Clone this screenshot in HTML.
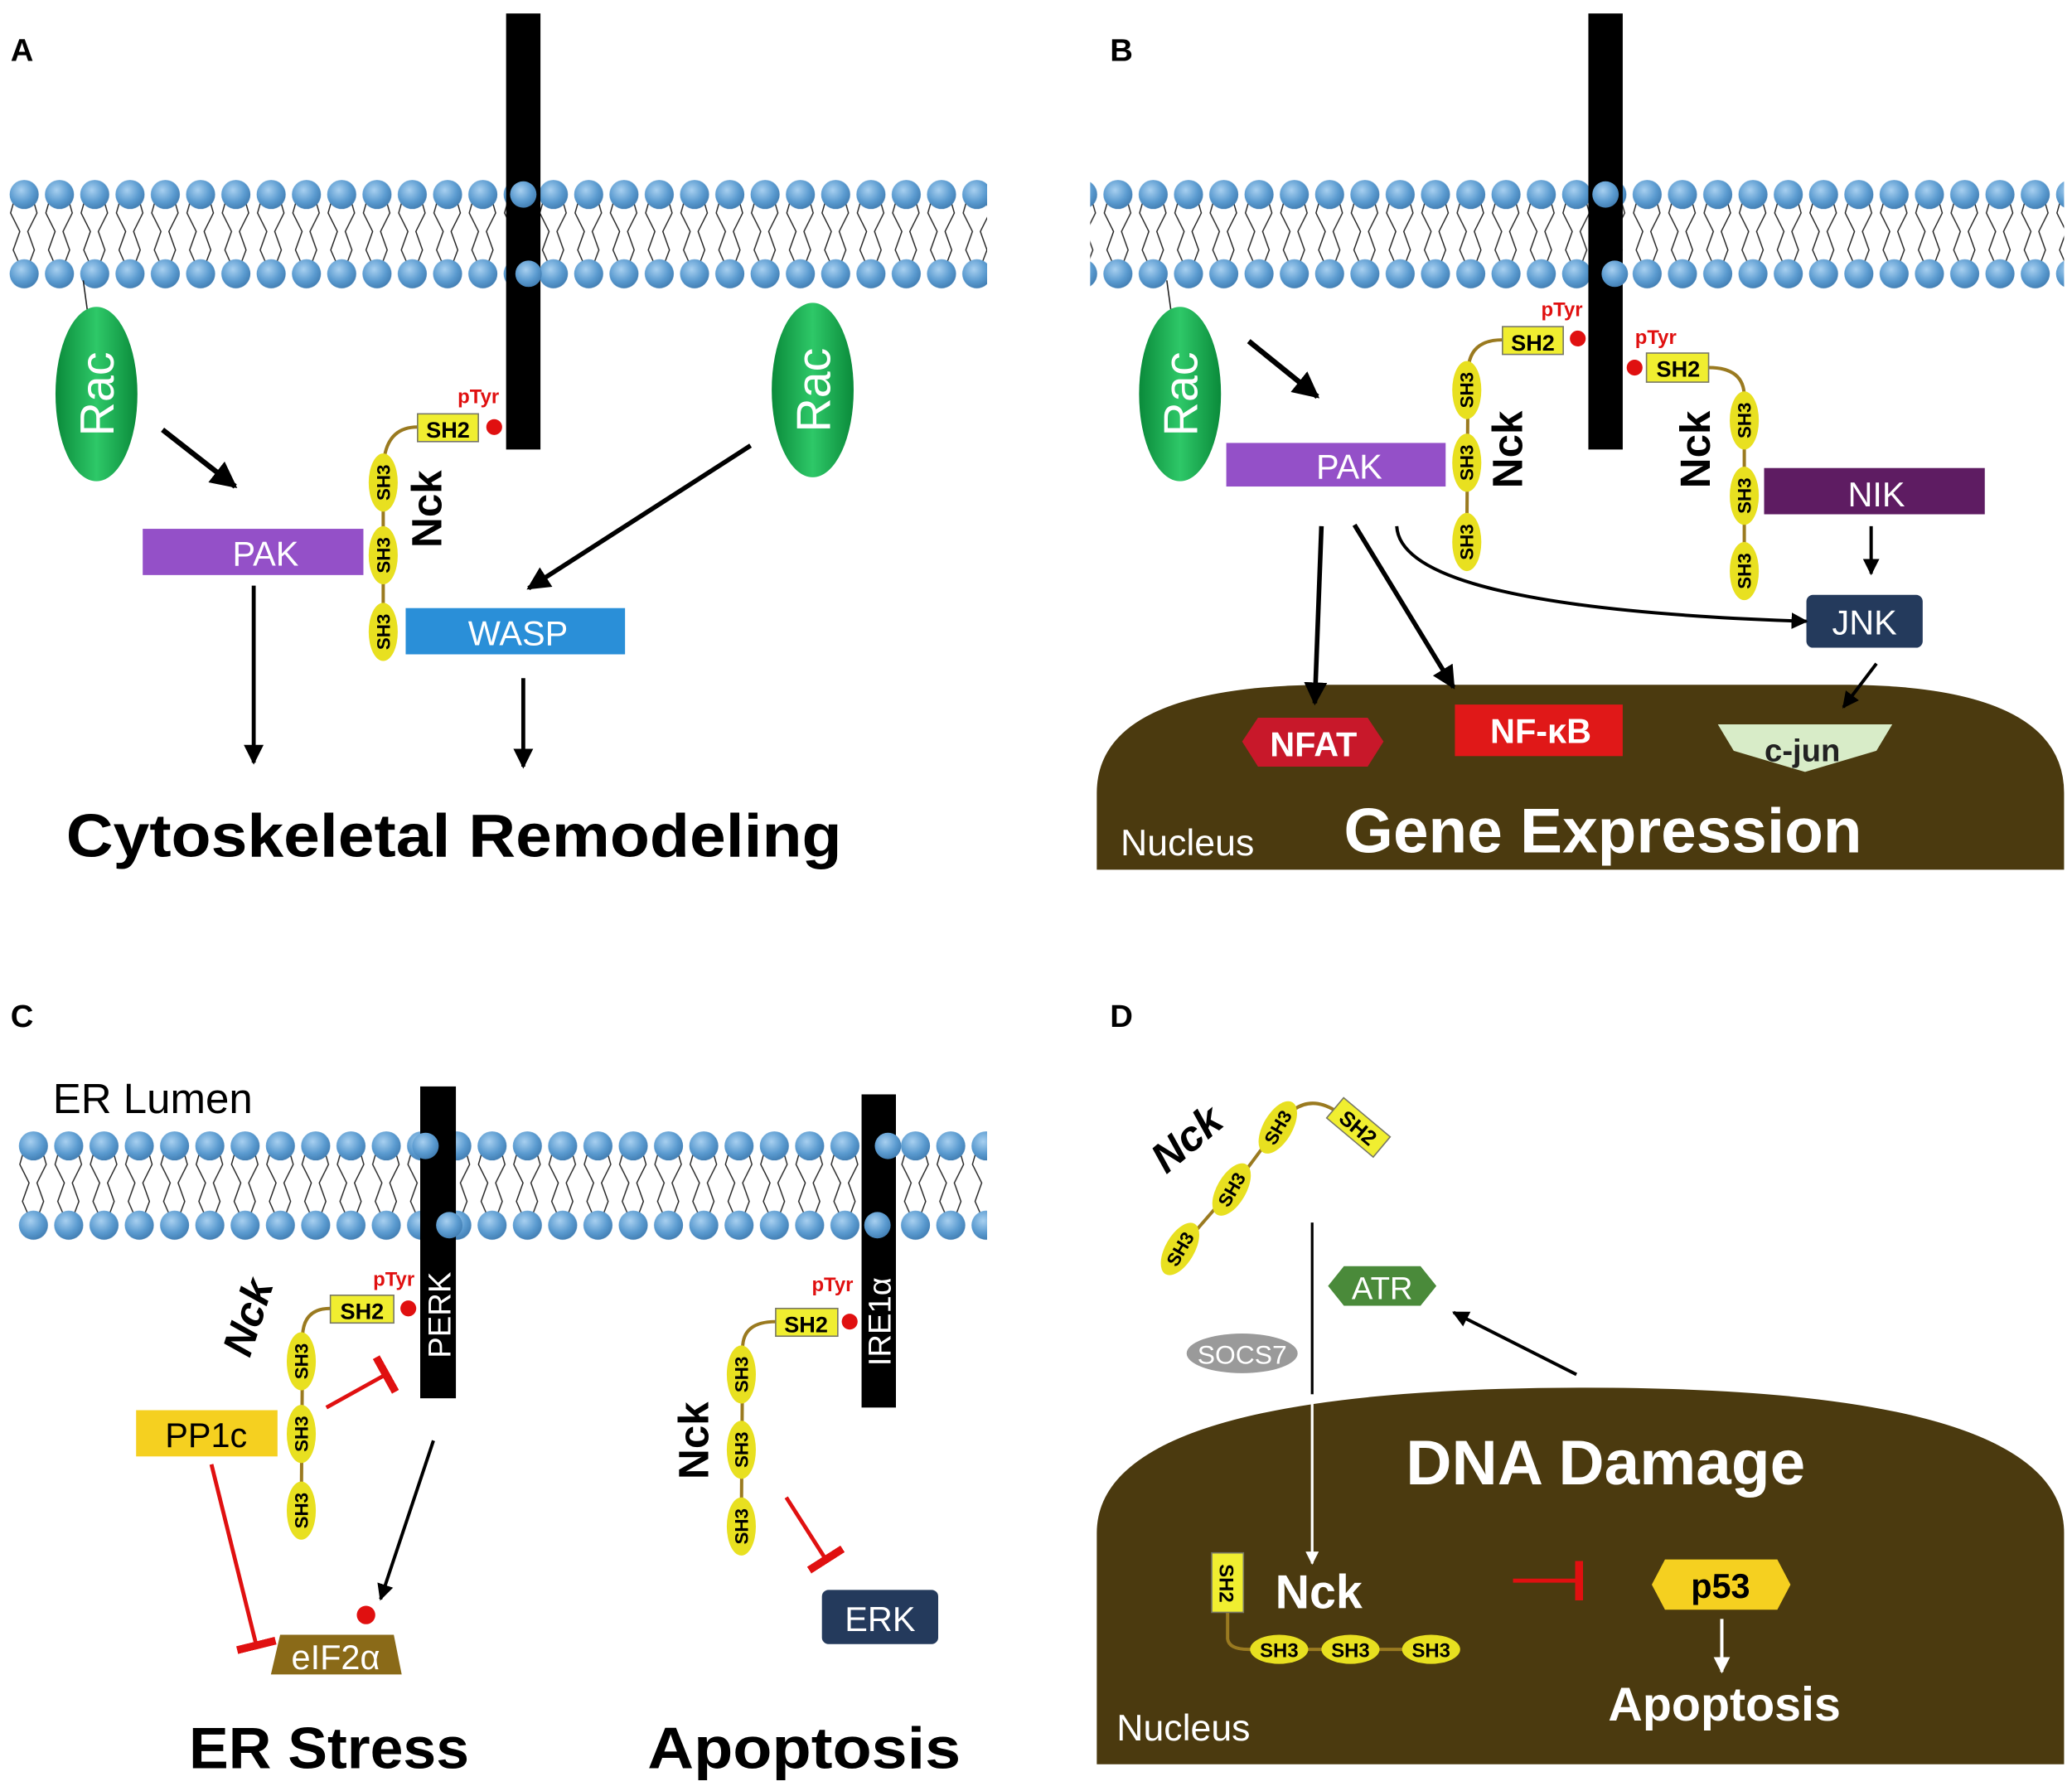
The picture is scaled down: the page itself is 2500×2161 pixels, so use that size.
<!DOCTYPE html>
<html><head><meta charset="utf-8"><style>
html,body{margin:0;padding:0;background:#fff}
svg{display:block}
text{font-family:"Liberation Sans",sans-serif}
</style></head><body>
<svg width="2500" height="2161" viewBox="0 0 1568 1355" xmlns="http://www.w3.org/2000/svg">
<defs>
<radialGradient id="hd" cx="0.4" cy="0.35" r="0.7"><stop offset="0" stop-color="#a8d0f0"/><stop offset="0.6" stop-color="#5b9bd0"/><stop offset="1" stop-color="#3f7bb0"/></radialGradient>
<pattern id="memA" patternUnits="userSpaceOnUse" x="5" y="131" width="26.7" height="90">
<path d="M7,16 L3,30 L10,44 L5,58 L12,74 M19,16 L23,30 L16,44 L21,58 L15,74" stroke="#222" stroke-width="0.9" fill="none"/>
<circle cx="13.3" cy="16" r="11" fill="url(#hd)"/><circle cx="13.3" cy="76" r="11" fill="url(#hd)"/>
</pattern>
<pattern id="memC" patternUnits="userSpaceOnUse" x="12" y="851" width="26.7" height="90">
<path d="M7,16 L3,30 L10,44 L5,58 L12,74 M19,16 L23,30 L16,44 L21,58 L15,74" stroke="#222" stroke-width="0.9" fill="none"/>
<circle cx="13.3" cy="16" r="11" fill="url(#hd)"/><circle cx="13.3" cy="76" r="11" fill="url(#hd)"/>
</pattern>
<linearGradient id="gr" x1="0" x2="1"><stop offset="0" stop-color="#0a8a3a"/><stop offset="0.5" stop-color="#2ec868"/><stop offset="1" stop-color="#0a8a3a"/></linearGradient>
<marker id="ab" viewBox="0 0 10 10" refX="9" refY="5" markerWidth="5" markerHeight="5" orient="auto"><path d="M0,0 L10,5 L0,10 Z" fill="#000"/></marker>
<marker id="aw" viewBox="0 0 10 10" refX="9" refY="5" markerWidth="5" markerHeight="5" orient="auto"><path d="M0,0 L10,5 L0,10 Z" fill="#fff"/></marker>
<marker id="ti" viewBox="0 0 4 20" refX="2" refY="10" markerWidth="2" markerHeight="10" orient="auto"><rect x="0" y="0" width="4" height="20" fill="#e01010"/></marker>
</defs>

<!-- membranes -->
<rect x="5" y="131" width="742" height="90" fill="url(#memA)"/>
<rect x="825" y="131" width="737" height="90" fill="url(#memA)"/>
<rect x="12" y="851" width="735" height="90" fill="url(#memC)"/>

<g font-weight="bold" font-size="24" fill="#000"><text x="8" y="46">A</text><text x="840" y="46">B</text><text x="8" y="777">C</text><text x="840" y="777">D</text></g>

<!-- Panel A -->
<rect x="383" y="10" width="26" height="330" fill="#000"/>
<circle cx="396" cy="147" r="10" fill="url(#hd)"/><circle cx="400" cy="207" r="10" fill="url(#hd)"/>
<line x1="63" y1="212" x2="66" y2="234" stroke="#222"/>
<ellipse cx="73" cy="298" rx="31" ry="66" fill="url(#gr)"/>
<text transform="translate(86,298) rotate(-90)" text-anchor="middle" fill="#fff" font-size="36">Rac</text>
<ellipse cx="615" cy="295" rx="31" ry="66" fill="url(#gr)"/>
<text transform="translate(628,295) rotate(-90)" text-anchor="middle" fill="#fff" font-size="36">Rac</text>
<line x1="123" y1="325" x2="178" y2="368" stroke="#000" stroke-width="4" marker-end="url(#ab)"/>
<rect x="108" y="400" width="167" height="35" fill="#9450c8"/><text x="201" y="428" text-anchor="middle" fill="#fff" font-size="26">PAK</text>
<line x1="568" y1="337" x2="400" y2="445" stroke="#000" stroke-width="3.5" marker-end="url(#ab)"/>
<rect x="307" y="460" width="166" height="35" fill="#2a8fd8"/><text x="392" y="488" text-anchor="middle" fill="#fff" font-size="26">WASP</text>
<line x1="192" y1="443" x2="192" y2="577" stroke="#000" stroke-width="3" marker-end="url(#ab)"/>
<line x1="396" y1="513" x2="396" y2="580" stroke="#000" stroke-width="3" marker-end="url(#ab)"/>
<path d="M316,323 Q295,323 291,345" stroke="#9a7a20" stroke-width="2.5" fill="none"/>
<line x1="290" y1="365" x2="290" y2="478" stroke="#9a7a20" stroke-width="2.5"/>
<rect x="316" y="313" width="46" height="21" fill="#f0ee30" stroke="#776"/><text x="339" y="331" text-anchor="middle" font-weight="bold" font-size="17">SH2</text>
<text x="362" y="305" text-anchor="middle" fill="#e01010" font-weight="bold" font-size="15">pTyr</text>
<circle cx="374" cy="323" r="6" fill="#e01010"/>
<g font-weight="bold" font-size="14">
<ellipse cx="290" cy="365" rx="11" ry="22" fill="#e8e020"/><text transform="translate(295,365) rotate(-90)" text-anchor="middle">SH3</text>
<ellipse cx="290" cy="420" rx="11" ry="22" fill="#e8e020"/><text transform="translate(295,420) rotate(-90)" text-anchor="middle">SH3</text>
<ellipse cx="290" cy="478" rx="11" ry="22" fill="#e8e020"/><text transform="translate(295,478) rotate(-90)" text-anchor="middle">SH3</text>
</g>
<text transform="translate(334,385) rotate(-90)" text-anchor="middle" font-weight="bold" font-size="32">Nck</text>
<text x="50" y="648" font-weight="bold" font-size="46" textLength="587" lengthAdjust="spacingAndGlyphs">Cytoskeletal Remodeling</text>

<!-- Panel B -->
<path d="M830,658 L830,600 Q830,520 1000,518 L1400,518 Q1562,520 1562,600 L1562,658 Z" fill="#4b3a0f"/>
<rect x="1202" y="10" width="26" height="330" fill="#000"/>
<circle cx="1215" cy="147" r="10" fill="url(#hd)"/><circle cx="1222" cy="207" r="10" fill="url(#hd)"/>
<line x1="883" y1="212" x2="886" y2="234" stroke="#222"/>
<ellipse cx="893" cy="298" rx="31" ry="66" fill="url(#gr)"/>
<text transform="translate(906,298) rotate(-90)" text-anchor="middle" fill="#fff" font-size="36">Rac</text>
<line x1="945" y1="258" x2="997" y2="300" stroke="#000" stroke-width="4" marker-end="url(#ab)"/>
<rect x="928" y="335" width="166" height="33" fill="#9450c8"/><text x="1021" y="362" text-anchor="middle" fill="#fff" font-size="26">PAK</text>
<path d="M1137,257 Q1112,257 1111,280 L1110,410" stroke="#9a7a20" stroke-width="2.5" fill="none"/>
<rect x="1137" y="247" width="46" height="21" fill="#f0ee30" stroke="#776"/><text x="1160" y="265" text-anchor="middle" font-weight="bold" font-size="17">SH2</text>
<text x="1182" y="239" text-anchor="middle" fill="#e01010" font-weight="bold" font-size="15">pTyr</text>
<circle cx="1194" cy="256" r="6" fill="#e01010"/>
<path d="M1293,278 Q1320,278 1320,300 L1320,432" stroke="#9a7a20" stroke-width="2.5" fill="none"/>
<rect x="1246" y="267" width="47" height="22" fill="#f0ee30" stroke="#776"/><text x="1270" y="285" text-anchor="middle" font-weight="bold" font-size="17">SH2</text>
<text x="1253" y="260" text-anchor="middle" fill="#e01010" font-weight="bold" font-size="15">pTyr</text>
<circle cx="1237" cy="278" r="6" fill="#e01010"/>
<g font-weight="bold" font-size="14">
<ellipse cx="1110" cy="295" rx="11" ry="22" fill="#e8e020"/><text transform="translate(1115,295) rotate(-90)" text-anchor="middle">SH3</text>
<ellipse cx="1110" cy="350" rx="11" ry="22" fill="#e8e020"/><text transform="translate(1115,350) rotate(-90)" text-anchor="middle">SH3</text>
<ellipse cx="1110" cy="410" rx="11" ry="22" fill="#e8e020"/><text transform="translate(1115,410) rotate(-90)" text-anchor="middle">SH3</text>
<ellipse cx="1320" cy="318" rx="11" ry="22" fill="#e8e020"/><text transform="translate(1325,318) rotate(-90)" text-anchor="middle">SH3</text>
<ellipse cx="1320" cy="375" rx="11" ry="22" fill="#e8e020"/><text transform="translate(1325,375) rotate(-90)" text-anchor="middle">SH3</text>
<ellipse cx="1320" cy="432" rx="11" ry="22" fill="#e8e020"/><text transform="translate(1325,432) rotate(-90)" text-anchor="middle">SH3</text>
</g>
<text transform="translate(1152,340) rotate(-90)" text-anchor="middle" font-weight="bold" font-size="32">Nck</text>
<text transform="translate(1294,340) rotate(-90)" text-anchor="middle" font-weight="bold" font-size="32">Nck</text>
<rect x="1335" y="354" width="167" height="35" fill="#5e1c62"/><text x="1420" y="383" text-anchor="middle" fill="#fff" font-size="26">NIK</text>
<line x1="1416" y1="398" x2="1416" y2="434" stroke="#000" stroke-width="2.5" marker-end="url(#ab)"/>
<rect x="1367" y="450" width="88" height="40" rx="5" fill="#243a5c"/><text x="1411" y="480" text-anchor="middle" fill="#fff" font-size="26">JNK</text>
<line x1="1000" y1="398" x2="995" y2="532" stroke="#000" stroke-width="3.5" marker-end="url(#ab)"/>
<line x1="1025" y1="397" x2="1100" y2="520" stroke="#000" stroke-width="3.5" marker-end="url(#ab)"/>
<path d="M1057,398 Q1060,460 1367,470" stroke="#000" stroke-width="2.5" fill="none" marker-end="url(#ab)"/>
<line x1="1420" y1="502" x2="1395" y2="535" stroke="#000" stroke-width="2.5" marker-end="url(#ab)"/>
<polygon points="940,561 952,543 1035,543 1047,561 1035,580 952,580" fill="#c8182a"/><text x="994" y="572" text-anchor="middle" fill="#fff" font-weight="bold" font-size="26">NFAT</text>
<rect x="1101" y="533" width="127" height="39" fill="#e01818"/><text x="1166" y="562" text-anchor="middle" fill="#fff" font-weight="bold" font-size="26">NF-κB</text>
<polygon points="1300,548 1432,548 1420,568 1366,584 1312,568" fill="#d8ecc8"/><text x="1364" y="576" text-anchor="middle" fill="#222" font-weight="bold" font-size="24">c-jun</text>
<text x="848" y="647" fill="#fff" font-size="28">Nucleus</text>
<text x="1213" y="645" text-anchor="middle" fill="#fff" font-weight="bold" font-size="48">Gene Expression</text>

<!-- Panel C -->
<text x="40" y="842" font-size="32">ER Lumen</text>
<rect x="318" y="822" width="27" height="236" fill="#000"/>
<circle cx="322" cy="867" r="10" fill="url(#hd)"/><circle cx="340" cy="927" r="10" fill="url(#hd)"/>
<text transform="translate(341,995) rotate(-90)" text-anchor="middle" fill="#fff" font-size="24">PERK</text>
<rect x="652" y="828" width="26" height="237" fill="#000"/>
<circle cx="672" cy="867" r="10" fill="url(#hd)"/><circle cx="664" cy="927" r="10" fill="url(#hd)"/>
<text transform="translate(674,1000) rotate(-90)" text-anchor="middle" fill="#fff" font-size="24">IRE1α</text>
<path d="M250,990 Q230,990 229,1010 L228,1143" stroke="#9a7a20" stroke-width="2.5" fill="none"/>
<rect x="250" y="980" width="48" height="21" fill="#f0ee30" stroke="#776"/><text x="274" y="998" text-anchor="middle" font-weight="bold" font-size="17">SH2</text>
<text x="298" y="973" text-anchor="middle" fill="#e01010" font-weight="bold" font-size="15">pTyr</text>
<circle cx="309" cy="990" r="6" fill="#e01010"/>
<path d="M587,1000 Q562,1000 562,1020 L561,1155" stroke="#9a7a20" stroke-width="2.5" fill="none"/>
<rect x="587" y="990" width="47" height="21" fill="#f0ee30" stroke="#776"/><text x="610" y="1008" text-anchor="middle" font-weight="bold" font-size="17">SH2</text>
<text x="630" y="977" text-anchor="middle" fill="#e01010" font-weight="bold" font-size="15">pTyr</text>
<circle cx="643" cy="1000" r="6" fill="#e01010"/>
<g font-weight="bold" font-size="14">
<ellipse cx="228" cy="1030" rx="11" ry="22" fill="#e8e020"/><text transform="translate(233,1030) rotate(-90)" text-anchor="middle">SH3</text>
<ellipse cx="228" cy="1085" rx="11" ry="22" fill="#e8e020"/><text transform="translate(233,1085) rotate(-90)" text-anchor="middle">SH3</text>
<ellipse cx="228" cy="1143" rx="11" ry="22" fill="#e8e020"/><text transform="translate(233,1143) rotate(-90)" text-anchor="middle">SH3</text>
<ellipse cx="561" cy="1040" rx="11" ry="22" fill="#e8e020"/><text transform="translate(566,1040) rotate(-90)" text-anchor="middle">SH3</text>
<ellipse cx="561" cy="1097" rx="11" ry="22" fill="#e8e020"/><text transform="translate(566,1097) rotate(-90)" text-anchor="middle">SH3</text>
<ellipse cx="561" cy="1155" rx="11" ry="22" fill="#e8e020"/><text transform="translate(566,1155) rotate(-90)" text-anchor="middle">SH3</text>
</g>
<text transform="translate(198,1000) rotate(-72)" text-anchor="middle" font-weight="bold" font-style="italic" font-size="32">Nck</text>
<text transform="translate(536,1090) rotate(-90)" text-anchor="middle" font-weight="bold" font-size="32">Nck</text>
<line x1="247" y1="1065" x2="292" y2="1040" stroke="#e01010" stroke-width="3" marker-end="url(#ti)"/>
<rect x="103" y="1067" width="107" height="35" fill="#f5d020"/><text x="156" y="1095" text-anchor="middle" font-size="26">PP1c</text>
<line x1="160" y1="1108" x2="194" y2="1245" stroke="#e01010" stroke-width="3" marker-end="url(#ti)"/>
<line x1="328" y1="1090" x2="288" y2="1210" stroke="#000" stroke-width="2.5" marker-end="url(#ab)"/>
<polygon points="212,1237 298,1237 304,1267 205,1267" fill="#8a6a18"/><text x="254" y="1263" text-anchor="middle" fill="#fff" font-size="26">eIF2α</text>
<circle cx="277" cy="1222" r="7" fill="#e01010"/>
<line x1="595" y1="1133" x2="625" y2="1180" stroke="#e01010" stroke-width="3" marker-end="url(#ti)"/>
<rect x="622" y="1203" width="88" height="41" rx="5" fill="#243a5c"/><text x="666" y="1234" text-anchor="middle" fill="#fff" font-size="26">ERK</text>
<text x="143" y="1338" font-weight="bold" font-size="44" textLength="212" lengthAdjust="spacingAndGlyphs">ER Stress</text>
<text x="490" y="1338" font-weight="bold" font-size="44" textLength="237" lengthAdjust="spacingAndGlyphs">Apoptosis</text>

<!-- Panel D -->
<path d="M830,1335 L830,1160 Q830,1050 1200,1050 Q1562,1050 1562,1160 L1562,1335 Z" fill="#4b3a0f"/>
<text transform="translate(905,870) rotate(-40)" text-anchor="middle" font-weight="bold" font-style="italic" font-size="32">Nck</text>
<path d="M893,945 L932,900 L967,853 Q985,825 1010,840" stroke="#9a7a20" stroke-width="2.5" fill="none"/>
<g font-weight="bold" font-size="14">
<g transform="translate(893,945) rotate(-60)"><ellipse rx="22" ry="11" fill="#e8e020"/><text y="5" text-anchor="middle">SH3</text></g>
<g transform="translate(932,900) rotate(-60)"><ellipse rx="22" ry="11" fill="#e8e020"/><text y="5" text-anchor="middle">SH3</text></g>
<g transform="translate(967,853) rotate(-60)"><ellipse rx="22" ry="11" fill="#e8e020"/><text y="5" text-anchor="middle">SH3</text></g>
<g transform="translate(1028,853) rotate(40)"><rect x="-23" y="-10" width="46" height="20" fill="#f0ee30" stroke="#776"/><text y="6" text-anchor="middle" font-size="16">SH2</text></g>
</g>
<line x1="993" y1="925" x2="993" y2="1055" stroke="#000" stroke-width="2"/>
<line x1="993" y1="1055" x2="993" y2="1183" stroke="#fff" stroke-width="2" marker-end="url(#aw)"/>
<polygon points="1005,973 1017,958 1075,958 1087,973 1075,988 1017,988" fill="#4a8a3a"/><text x="1046" y="983" text-anchor="middle" fill="#fff" font-size="24">ATR</text>
<ellipse cx="940" cy="1024" rx="42" ry="15" fill="#9a9a9a"/><text x="940" y="1032" text-anchor="middle" fill="#fff" font-size="20">SOCS7</text>
<line x1="1193" y1="1040" x2="1100" y2="993" stroke="#000" stroke-width="2.5" marker-end="url(#ab)"/>
<text x="1215" y="1123" text-anchor="middle" fill="#fff" font-weight="bold" font-size="48">DNA Damage</text>
<path d="M929,1220 L929,1240 Q930,1248 945,1248 L1083,1248" stroke="#9a7a20" stroke-width="2.5" fill="none"/>
<rect x="917" y="1175" width="24" height="45" fill="#f0ee30" stroke="#776"/><text transform="translate(923,1198) rotate(90)" text-anchor="middle" font-weight="bold" font-size="15">SH2</text>
<g font-weight="bold" font-size="15">
<ellipse cx="968" cy="1248" rx="22" ry="11" fill="#e8e020"/><text x="968" y="1254" text-anchor="middle">SH3</text>
<ellipse cx="1022" cy="1248" rx="22" ry="11" fill="#e8e020"/><text x="1022" y="1254" text-anchor="middle">SH3</text>
<ellipse cx="1083" cy="1248" rx="22" ry="11" fill="#e8e020"/><text x="1083" y="1254" text-anchor="middle">SH3</text>
</g>
<text x="965" y="1217" fill="#fff" font-weight="bold" font-size="36">Nck</text>
<line x1="1145" y1="1196" x2="1195" y2="1196" stroke="#e01010" stroke-width="3" marker-end="url(#ti)"/>
<polygon points="1250,1199 1260,1180 1345,1180 1355,1199 1345,1218 1260,1218" fill="#f5d020"/><text x="1302" y="1209" text-anchor="middle" font-weight="bold" font-size="26">p53</text>
<line x1="1303" y1="1225" x2="1303" y2="1265" stroke="#fff" stroke-width="2.5" marker-end="url(#aw)"/>
<text x="1305" y="1302" text-anchor="middle" fill="#fff" font-weight="bold" font-size="36">Apoptosis</text>
<text x="845" y="1317" fill="#fff" font-size="28">Nucleus</text>
</svg>
</body></html>
